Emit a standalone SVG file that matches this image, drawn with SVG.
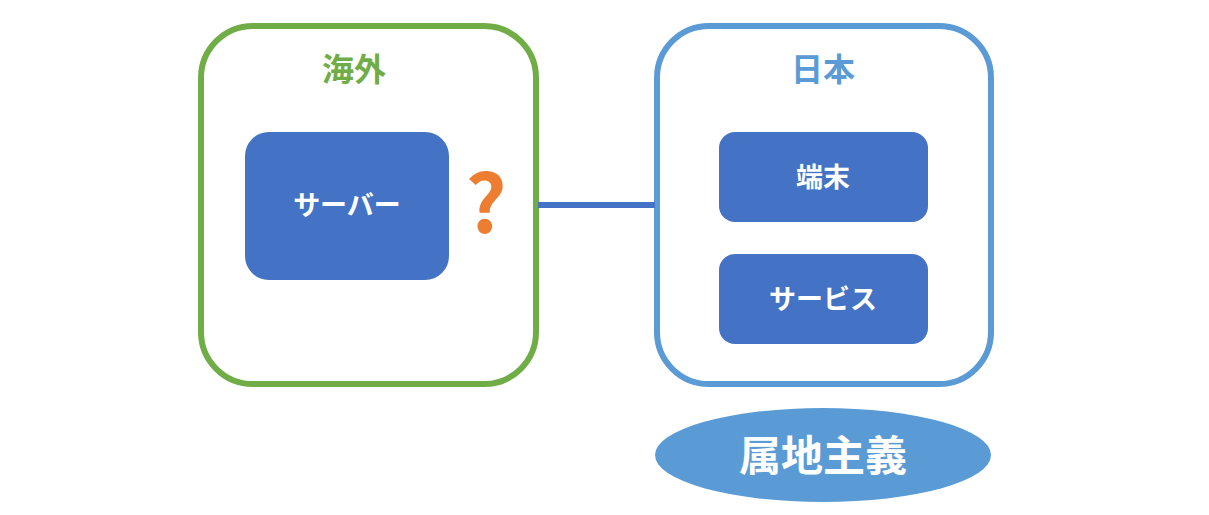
<svg xmlns="http://www.w3.org/2000/svg" width="1209" height="515" viewBox="0 0 1209 515">
<style>
text{font-family:"Noto Sans CJK JP","Noto Sans",sans-serif;font-weight:bold;text-anchor:middle;dominant-baseline:central}
.n{fill:#4472C4}
.w{fill:#fff;font-size:27px}
</style>
<rect width="1209" height="515" fill="#fff"/>
<g id="kaigai">
<rect x="201" y="26" width="335" height="358" rx="52" fill="none" stroke="#70AD47" stroke-width="6"/>
<text x="354" y="67" fill="#70AD47" font-size="32">海外</text>
</g>
<g id="nihon">
<rect x="657" y="26" width="334" height="358" rx="52" fill="none" stroke="#5B9BD5" stroke-width="6"/>
<text x="823" y="67" fill="#5B9BD5" font-size="32">日本</text>
</g>
<g id="server">
<rect class="n" x="245" y="132" width="204" height="148" rx="24"/>
<text class="w" x="347" y="203" font-size="34">サーバー</text>
</g>
<g id="question"><text x="486" y="198" fill="#ED7D31" font-size="80">?</text></g>
<g id="tanmatsu">
<rect class="n" x="719" y="132" width="209" height="90" rx="16"/>
<text class="w" x="823" y="175">端末</text>
</g>
<g id="service">
<rect class="n" x="719" y="254" width="209" height="90" rx="16"/>
<text class="w" x="823" y="297">サービス</text>
</g>
<g id="zokuchi">
<ellipse cx="823" cy="455" rx="168" ry="47" fill="#5B9BD5"/>
<text x="823" y="452" fill="#fff" font-size="42">属地主義</text>
</g>
<g id="connectors">
<line x1="538" y1="205" x2="655" y2="205" stroke="#4472C4" stroke-width="6"/>
</g>
</svg>
